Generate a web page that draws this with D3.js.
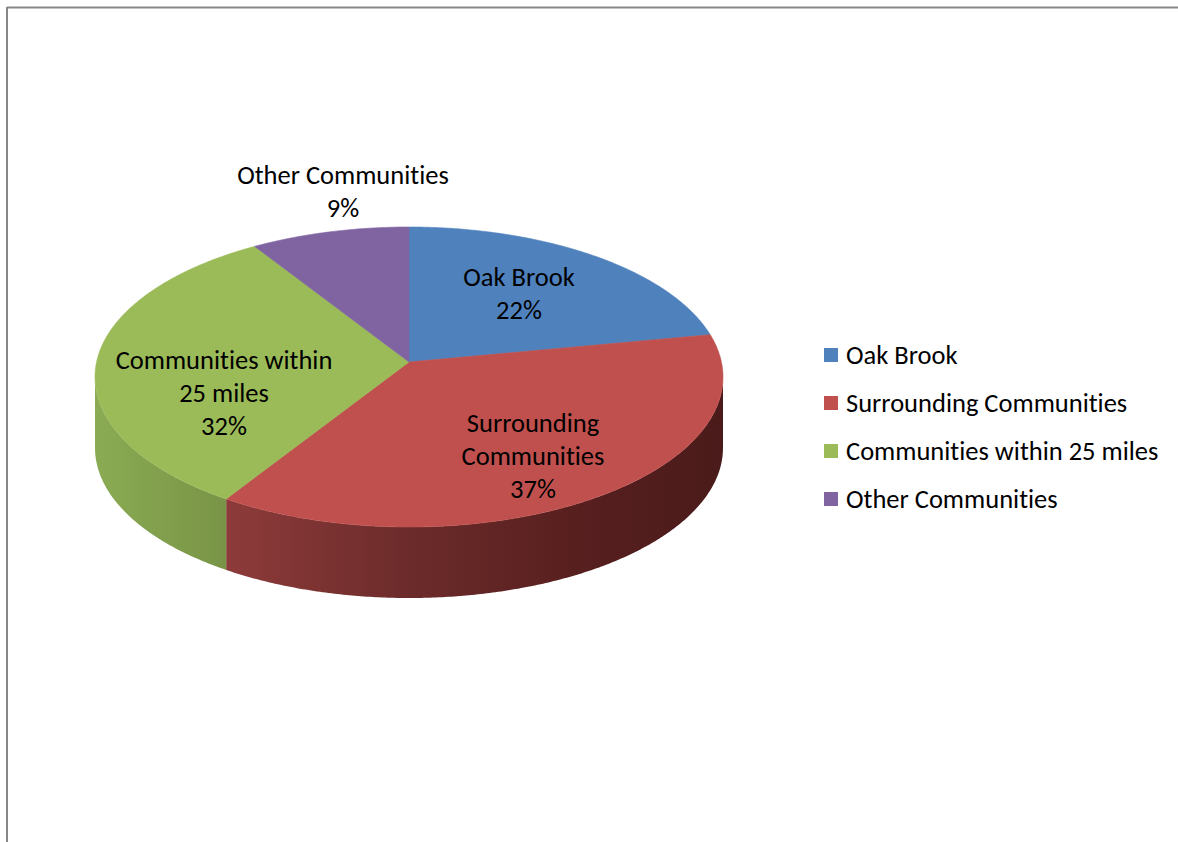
<!DOCTYPE html>
<html>
<head>
<meta charset="utf-8">
<script src="https://cdn.jsdelivr.net/npm/d3@7"></script>
<style>
  html, body { margin: 0; padding: 0; background: #ffffff; }
  svg { display: block; }
  text { font-family: Carlito, Calibri, Lato, "Open Sans", sans-serif; fill: #000;
         font-variant-ligatures: none; font-feature-settings: "liga" 0; }
</style>
</head>
<body>
<svg id="chart" width="1178" height="842"></svg>
<script>
// ---- data ----
const categories = ["Oak Brook", "Surrounding Communities", "Communities within 25 miles", "Other Communities"];
const shares = [22, 37, 32, 9];
// category names as they wrap inside the pie labels
const labelLines = [["Oak Brook"], ["Surrounding", "Communities"], ["Communities within", "25 miles"], ["Other Communities"]];

// ---- style / layout ----
const topColors = ["#4f81bd", "#c0504d", "#9bbb59", "#8064a2"];
const sideStops = [
  null,
  [[0, "#8d3b3a"], [0.35, "#6d2c2b"], [0.7, "#581f1f"], [1, "#4a1b1a"]],
  [[0, "#8aab53"], [1, "#799446"]],
  null
];
// label centre (x, y of first line) for each slice
const labelAnchor = [[519, 277], [533, 423], [224, 360], [343, 175]];
const lineGap = 33;
const fontSize = 26.5;

const svg = d3.select("#chart");

// chart frame
svg.append("line").attr("x1", 7).attr("y1", 7.5).attr("x2", 1178).attr("y2", 7.5)
  .attr("stroke", "#878787").attr("stroke-width", 2);
svg.append("line").attr("x1", 7).attr("y1", 7).attr("x2", 7).attr("y2", 842)
  .attr("stroke", "#878787").attr("stroke-width", 2);

// ---- tilted pie projection ----
const cx = 409, cy = 362;        // projected pie centre
const A = 312.4, B = 148.5;      // horizontal / vertical half-axes
const k = 0.1;                   // perspective strength
const depth = 71;                // thickness of the pie

function proj(theta, r = 1) {
  const u = r * Math.sin(theta), v = -r * Math.cos(theta);
  const w = 1 - k * v;
  return [cx + A * u / w, cy + B * v / w];
}

const pie = d3.pie().sort(null).value(d => d);
const arcs = pie(shares);

function arcPoints(a0, a1, dy = 0) {
  const n = Math.max(2, Math.ceil(Math.abs(a1 - a0) / (Math.PI / 360)));
  const pts = [];
  for (let i = 0; i <= n; i++) {
    const t = a0 + (a1 - a0) * i / n;
    const p = proj(t);
    pts.push([p[0], p[1] + dy]);
  }
  return pts;
}

const line = d3.line();
const defs = svg.append("defs");

// visible part of the rim: between the right-most and left-most silhouette points
const rimStart = Math.acos(-k);
const rimEnd = 2 * Math.PI - Math.acos(-k);

const sides = svg.append("g");
arcs.forEach((d, i) => {
  const lo = Math.max(d.startAngle, rimStart);
  const hi = Math.min(d.endAngle, rimEnd);
  if (lo >= hi) return;
  const topEdge = arcPoints(lo, hi);
  const bottomEdge = arcPoints(hi, lo, depth);
  const xs = topEdge.map(p => p[0]);
  const gid = "side" + i;
  const g = defs.append("linearGradient").attr("id", gid)
    .attr("gradientUnits", "userSpaceOnUse")
    .attr("x1", d3.min(xs)).attr("x2", d3.max(xs)).attr("y1", 0).attr("y2", 0);
  sideStops[i].forEach(s => g.append("stop").attr("offset", s[0]).attr("stop-color", s[1]));
  sides.append("path")
    .attr("d", line(topEdge.concat(bottomEdge)) + "Z")
    .attr("fill", `url(#${gid})`);
});

// top faces
const tops = svg.append("g");
arcs.forEach((d, i) => {
  const pts = [[cx, cy]].concat(arcPoints(d.startAngle, d.endAngle));
  tops.append("path")
    .attr("d", line(pts) + "Z")
    .attr("fill", topColors[i])
    .attr("stroke", topColors[i])
    .attr("stroke-width", 0.6)
    .attr("stroke-linejoin", "round");
});

// data labels
const labels = svg.append("g").attr("text-anchor", "middle").attr("font-size", fontSize);
arcs.forEach((d, i) => {
  const lines = labelLines[i].concat([d.value + "%"]);
  const t = labels.append("text");
  lines.forEach((s, j) => {
    t.append("tspan")
      .attr("x", labelAnchor[i][0])
      .attr("y", labelAnchor[i][1] + j * lineGap)
      .attr("dy", "0.35em")
      .text(s);
  });
});

// legend
const legend = svg.append("g").attr("font-size", fontSize);
const legendY = d3.scalePoint().domain(categories).range([355, 499]);
categories.forEach((c, i) => {
  const y = legendY(c);
  legend.append("rect").attr("x", 824).attr("y", y - 7).attr("width", 14).attr("height", 14)
    .attr("fill", topColors[i]);
  legend.append("text").attr("x", 846).attr("y", y).attr("dy", "0.35em").text(c);
});
</script>
</body>
</html>
